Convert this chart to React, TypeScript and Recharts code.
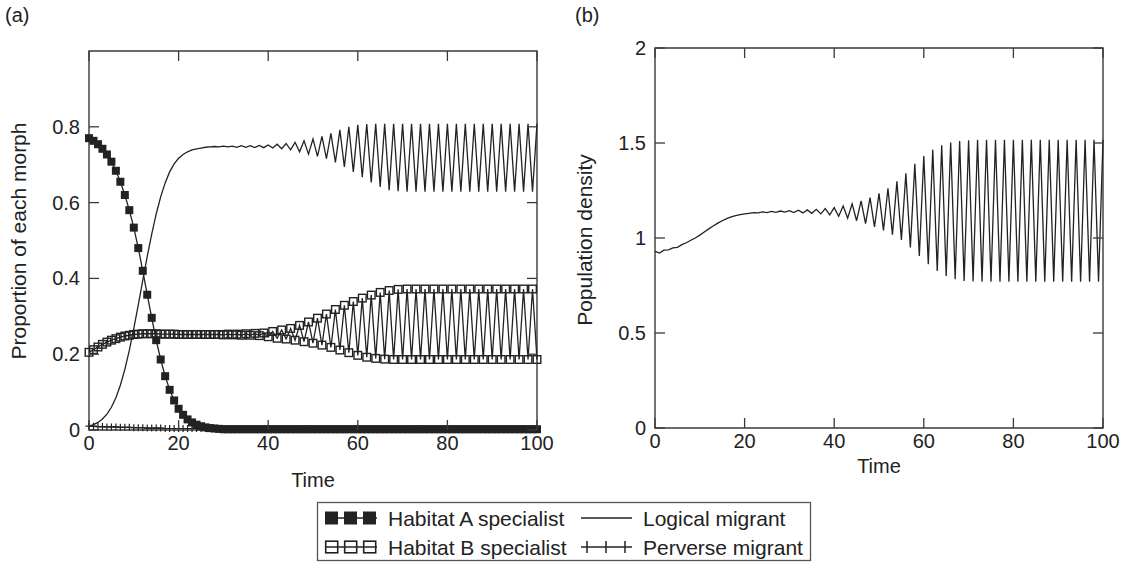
import { LineChart, Line, XAxis, YAxis, ReferenceArea } from "recharts";

const FONT = "'Liberation Sans', Arial, Helvetica, sans-serif";
const INK = "#222";
const FRAME = "#3a3a3a";
const TICK = 10;

// time steps shared by both panels
const time = [
  0, 1, 2, 3, 4, 5, 6, 7, 8, 9,
  10, 11, 12, 13, 14, 15, 16, 17, 18, 19,
  20, 21, 22, 23, 24, 25, 26, 27, 28, 29,
  30, 31, 32, 33, 34, 35, 36, 37, 38, 39,
  40, 41, 42, 43, 44, 45, 46, 47, 48, 49,
  50, 51, 52, 53, 54, 55, 56, 57, 58, 59,
  60, 61, 62, 63, 64, 65, 66, 67, 68, 69,
  70, 71, 72, 73, 74, 75, 76, 77, 78, 79,
  80, 81, 82, 83, 84, 85, 86, 87, 88, 89,
  90, 91, 92, 93, 94, 95, 96, 97, 98, 99,
  100,
];

// (a) proportion of each morph
const habitatA = [
  0.770, 0.763, 0.754, 0.742, 0.727, 0.708, 0.684, 0.655, 0.620, 0.580,
  0.534, 0.480, 0.420, 0.357, 0.296, 0.237, 0.186, 0.142, 0.106, 0.078,
  0.056, 0.040, 0.028, 0.020, 0.014, 0.010, 0.007, 0.005, 0.004, 0.003,
  0.002, 0.002, 0.002, 0.002, 0.002, 0.002, 0.002, 0.002, 0.002, 0.002,
  0.002, 0.002, 0.002, 0.002, 0.002, 0.002, 0.002, 0.002, 0.002, 0.002,
  0.002, 0.002, 0.002, 0.002, 0.002, 0.002, 0.002, 0.002, 0.002, 0.002,
  0.002, 0.002, 0.002, 0.002, 0.002, 0.002, 0.002, 0.002, 0.002, 0.002,
  0.002, 0.002, 0.002, 0.002, 0.002, 0.002, 0.002, 0.002, 0.002, 0.002,
  0.002, 0.002, 0.002, 0.002, 0.002, 0.002, 0.002, 0.002, 0.002, 0.002,
  0.002, 0.002, 0.002, 0.002, 0.002, 0.002, 0.002, 0.002, 0.002, 0.002,
  0.002,
];

const habitatB = [
  0.205, 0.212, 0.219, 0.226, 0.232, 0.237, 0.241, 0.245, 0.248, 0.250,
  0.252, 0.253, 0.254, 0.254, 0.254, 0.254, 0.253, 0.253, 0.253, 0.253,
  0.252, 0.252, 0.252, 0.252, 0.252, 0.252, 0.252, 0.252, 0.252, 0.252,
  0.251, 0.253, 0.251, 0.253, 0.250, 0.254, 0.250, 0.255, 0.249, 0.256,
  0.246, 0.260, 0.242, 0.264, 0.240, 0.268, 0.237, 0.276, 0.233, 0.285,
  0.229, 0.295, 0.224, 0.306, 0.218, 0.318, 0.211, 0.329, 0.204, 0.339,
  0.197, 0.348, 0.192, 0.356, 0.189, 0.363, 0.187, 0.368, 0.186, 0.371,
  0.186, 0.372, 0.186, 0.372, 0.186, 0.372, 0.186, 0.372, 0.186, 0.372,
  0.186, 0.372, 0.186, 0.372, 0.186, 0.372, 0.186, 0.372, 0.186, 0.372,
  0.186, 0.372, 0.186, 0.372, 0.186, 0.372, 0.186, 0.372, 0.186, 0.372,
  0.186,
];

const logical = [
  0.010, 0.014, 0.020, 0.029, 0.042, 0.060, 0.085, 0.118, 0.160, 0.210,
  0.268, 0.330, 0.395, 0.458, 0.517, 0.570, 0.615, 0.652, 0.681, 0.702,
  0.717, 0.727, 0.734, 0.739, 0.742, 0.744, 0.746, 0.747, 0.748, 0.747,
  0.749, 0.747, 0.749, 0.746, 0.750, 0.746, 0.750, 0.745, 0.751, 0.745,
  0.752, 0.744, 0.754, 0.742, 0.756, 0.739, 0.759, 0.734, 0.763, 0.728,
  0.768, 0.722, 0.775, 0.716, 0.783, 0.706, 0.792, 0.694, 0.800, 0.681,
  0.805, 0.667, 0.807, 0.653, 0.808, 0.641, 0.808, 0.633, 0.808, 0.630,
  0.808, 0.629, 0.808, 0.629, 0.808, 0.629, 0.808, 0.629, 0.808, 0.629,
  0.808, 0.629, 0.808, 0.629, 0.808, 0.629, 0.808, 0.629, 0.808, 0.629,
  0.808, 0.629, 0.808, 0.629, 0.808, 0.629, 0.808, 0.629, 0.808, 0.629,
  0.808,
];

const perverse = [
  0.010, 0.010, 0.009, 0.009, 0.008, 0.008, 0.008, 0.007, 0.007, 0.007,
  0.006, 0.006, 0.006, 0.005, 0.005, 0.005, 0.005, 0.004, 0.004, 0.004,
  0.004, 0.004, 0.004, 0.004, 0.004, 0.004, 0.004, 0.004, 0.004, 0.004,
  0.003, 0.003, 0.003, 0.003, 0.003, 0.003, 0.003, 0.003, 0.003, 0.003,
  0.003, 0.003, 0.003, 0.003, 0.003, 0.003, 0.003, 0.003, 0.003, 0.003,
  0.003, 0.003, 0.003, 0.003, 0.003, 0.003, 0.003, 0.003, 0.003, 0.003,
  0.003, 0.003, 0.003, 0.003, 0.003, 0.003, 0.003, 0.003, 0.003, 0.003,
  0.003, 0.003, 0.003, 0.003, 0.003, 0.003, 0.003, 0.003, 0.003, 0.003,
  0.003, 0.003, 0.003, 0.003, 0.003, 0.003, 0.003, 0.003, 0.003, 0.003,
  0.003, 0.003, 0.003, 0.003, 0.003, 0.003, 0.003, 0.003, 0.003, 0.003,
  0.003,
];

// (b) population density
const density = [
  0.930, 0.921, 0.936, 0.938, 0.948, 0.951, 0.965, 0.975, 0.988, 1.000,
  1.015, 1.032, 1.048, 1.063, 1.078, 1.091, 1.102, 1.111, 1.118, 1.123,
  1.127, 1.130, 1.133, 1.132, 1.137, 1.134, 1.140, 1.135, 1.142, 1.136,
  1.144, 1.134, 1.146, 1.132, 1.148, 1.130, 1.151, 1.127, 1.155, 1.122,
  1.160, 1.114, 1.168, 1.104, 1.180, 1.091, 1.195, 1.076, 1.212, 1.058,
  1.235, 1.040, 1.262, 1.018, 1.298, 0.990, 1.340, 0.950, 1.390, 0.905,
  1.432, 0.862, 1.465, 0.826, 1.488, 0.800, 1.503, 0.783, 1.511, 0.774,
  1.515, 0.771, 1.517, 0.770, 1.517, 0.770, 1.517, 0.770, 1.517, 0.770,
  1.517, 0.770, 1.517, 0.770, 1.517, 0.770, 1.517, 0.770, 1.517, 0.770,
  1.517, 0.770, 1.517, 0.770, 1.517, 0.770, 1.517, 0.770, 1.517, 0.770,
  1.517,
];

const timeTicks = [0, 20, 40, 60, 80, 100];
const morphTicks = [0, 0.2, 0.4, 0.6, 0.8];
const densityTicks = [0, 0.5, 1, 1.5, 2];

const morphRows = time.map((t, i) => ({
  t,
  a: habitatA[i],
  b: habitatB[i],
  l: logical[i],
  p: perverse[i],
}));
const densityRows = time.map((t, i) => ({ t, d: density[i] }));

// inward ticks on both opposite sides of the frame
function xTick(plotH: number) {
  return (props: any) => {
    const { x, y, payload } = props;
    return (
      <g>
        <line x1={x} y1={y} x2={x} y2={y - TICK} stroke={FRAME} strokeWidth={1.3} />
        <line x1={x} y1={y - plotH} x2={x} y2={y - plotH + TICK} stroke={FRAME} strokeWidth={1.3} />
        <text x={x} y={y + 20} textAnchor="middle" fontSize={20} fill={INK}>
          {payload.value}
        </text>
      </g>
    );
  };
}

function yTick(plotW: number) {
  return (props: any) => {
    const { x, y, payload } = props;
    return (
      <g>
        <line x1={x} y1={y} x2={x + TICK} y2={y} stroke={FRAME} strokeWidth={1.3} />
        <line x1={x + plotW} y1={y} x2={x + plotW - TICK} y2={y} stroke={FRAME} strokeWidth={1.3} />
        <text x={x - 9} y={y + 7} textAnchor="end" fontSize={20} fill={INK}>
          {payload.value}
        </text>
      </g>
    );
  };
}

const filledSquare = (props: any) => {
  const { cx, cy, index } = props;
  if (cx == null || cy == null) return <g key={`fa-${index}`} />;
  return <rect key={`fa-${index}`} x={cx - 4} y={cy - 4} width={8} height={8} fill={INK} />;
};

const openSquare = (props: any) => {
  const { cx, cy, index } = props;
  if (cx == null || cy == null) return <g key={`ob-${index}`} />;
  return (
    <rect key={`ob-${index}`} x={cx - 3.8} y={cy - 3.8} width={7.6} height={7.6} fill="none" stroke={INK} strokeWidth={1.4} />
  );
};

const plusMark = (props: any) => {
  const { cx, cy, index } = props;
  if (cx == null || cy == null) return <g key={`pp-${index}`} />;
  return (
    <path key={`pp-${index}`} d={`M${cx - 3.5},${cy}H${cx + 3.5}M${cx},${cy - 3.5}V${cy + 3.5}`} stroke={INK} strokeWidth={1.2} fill="none" />
  );
};

function MorphChart() {
  const W = 560, H = 470;
  // axis boxes are 1px so that recharts still draws their ticks
  const m = { top: 51, left: 88, right: 23, bottom: 39 };
  const plotW = W - m.left - 1 - m.right;
  const plotH = H - m.top - m.bottom - 1;
  return (
    <LineChart width={W} height={H} data={morphRows} margin={m}>
      <XAxis dataKey="t" type="number" domain={[0, 100]} ticks={timeTicks} interval={0}
        height={1} tickSize={0} tickMargin={0} axisLine={false} tickLine={false} tick={xTick(plotH)} />
      <YAxis type="number" domain={[0, 1]} ticks={morphTicks} interval={0}
        width={1} tickSize={0} tickMargin={0} axisLine={false} tickLine={false} tick={yTick(plotW)} />
      <ReferenceArea x1={0} x2={100} y1={0} y2={1} fill="none" stroke={FRAME} strokeWidth={1.4} fillOpacity={0} />
      <Line dataKey="p" type="linear" stroke={INK} strokeWidth={1.1} dot={plusMark} activeDot={false} isAnimationActive={false} />
      <Line dataKey="l" type="linear" stroke={INK} strokeWidth={1.3} dot={false} activeDot={false} isAnimationActive={false} />
      <Line dataKey="b" type="linear" stroke={INK} strokeWidth={1.3} dot={openSquare} activeDot={false} isAnimationActive={false} />
      <Line dataKey="a" type="linear" stroke={INK} strokeWidth={1.3} dot={filledSquare} activeDot={false} isAnimationActive={false} />
    </LineChart>
  );
}

function DensityChart() {
  const W = 559, H = 470;
  const m = { top: 48, left: 84, right: 26, bottom: 41 };
  const plotW = W - m.left - 1 - m.right;
  const plotH = H - m.top - m.bottom - 1;
  return (
    <LineChart width={W} height={H} data={densityRows} margin={m}>
      <XAxis dataKey="t" type="number" domain={[0, 100]} ticks={timeTicks} interval={0}
        height={1} tickSize={0} tickMargin={0} axisLine={false} tickLine={false} tick={xTick(plotH)} />
      <YAxis type="number" domain={[0, 2]} ticks={densityTicks} interval={0}
        width={1} tickSize={0} tickMargin={0} axisLine={false} tickLine={false} tick={yTick(plotW)} />
      <ReferenceArea x1={0} x2={100} y1={0} y2={2} fill="none" stroke={FRAME} strokeWidth={1.4} fillOpacity={0} />
      <Line dataKey="d" type="linear" stroke={INK} strokeWidth={1.3} dot={false} activeDot={false} isAnimationActive={false} />
    </LineChart>
  );
}

function Overlay() {
  const row1 = 518;
  const row2 = 547;
  return (
    <svg width={1129} height={562} style={{ position: "absolute", left: 0, top: 0, pointerEvents: "none" }}>
      <text x={5} y={22} fontSize={20} fill={INK}>(a)</text>
      <text x={575} y={22} fontSize={20} fill={INK}>(b)</text>
      <text x={313} y={487} fontSize={20} fill={INK} textAnchor="middle">Time</text>
      <text x={879} y={473} fontSize={20} fill={INK} textAnchor="middle">Time</text>
      <text transform="translate(26,241) rotate(-90)" fontSize={21} fill={INK} textAnchor="middle">
        Proportion of each morph
      </text>
      <text transform="translate(592,240) rotate(-90)" fontSize={21} fill={INK} textAnchor="middle">
        Population density
      </text>

      <rect x={317.5} y={502.5} width={493} height={58} fill="none" stroke="#555" strokeWidth={1.3} />
      {/* row 1 */}
      <line x1={325} y1={row1} x2={377} y2={row1} stroke={INK} strokeWidth={1.5} />
      {[325, 344, 363].map((x) => (
        <rect key={`la${x}`} x={x} y={row1 - 6.5} width={13} height={13} fill={INK} />
      ))}
      <text x={388} y={row1 + 7.5} fontSize={21} fill={INK}>Habitat A specialist</text>
      <line x1={581} y1={row1} x2={632} y2={row1} stroke={INK} strokeWidth={1.3} />
      <text x={643} y={row1 + 7.5} fontSize={21} fill={INK}>Logical migrant</text>
      {/* row 2 */}
      <line x1={325} y1={row2} x2={377} y2={row2} stroke={INK} strokeWidth={1.5} />
      {[325, 344, 363].map((x) => (
        <rect key={`lb${x}`} x={x + 0.7} y={row2 - 5.8} width={12} height={11.6} fill="none" stroke={INK} strokeWidth={1.6} />
      ))}
      <text x={388} y={row2 + 7.5} fontSize={21} fill={INK}>Habitat B specialist</text>
      <line x1={581} y1={row2} x2={632} y2={row2} stroke={INK} strokeWidth={1.5} />
      {[587, 606, 625].map((x) => (
        <line key={`lp${x}`} x1={x} y1={row2 - 6} x2={x} y2={row2 + 6} stroke={INK} strokeWidth={1.5} />
      ))}
      <text x={643} y={row2 + 7.5} fontSize={21} fill={INK}>Perverse migrant</text>
    </svg>
  );
}

export default function App() {
  return (
    <div style={{ position: "absolute", left: 0, top: 0, width: 1129, height: 562, background: "#fff", fontFamily: FONT, overflow: "hidden" }}>
      <div style={{ position: "absolute", left: 0, top: 0 }}>
        <MorphChart />
      </div>
      <div style={{ position: "absolute", left: 570, top: 0 }}>
        <DensityChart />
      </div>
      <Overlay />
    </div>
  );
}
